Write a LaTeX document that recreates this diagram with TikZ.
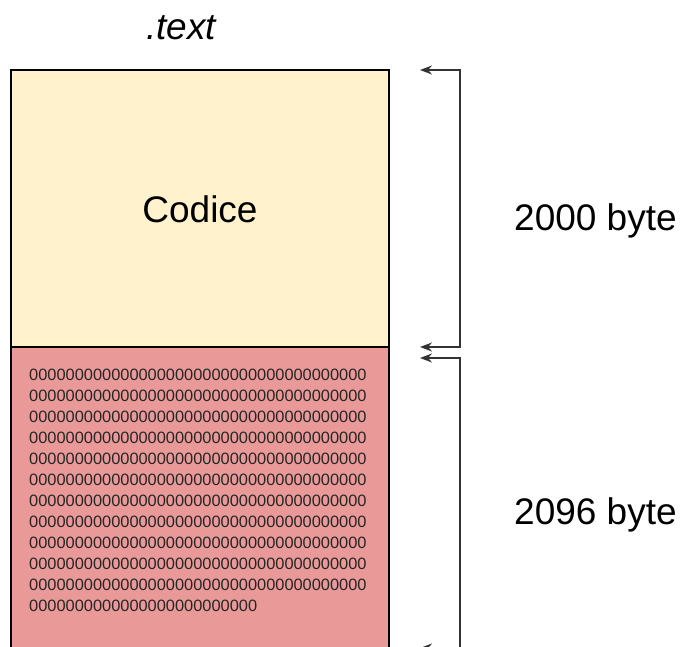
\documentclass[tikz,border=0pt]{standalone}
\usepackage{fontspec}
\setmainfont{Liberation Sans}
\usetikzlibrary{arrows.meta}
\definecolor{codeyellow}{HTML}{FFF2CC}
\definecolor{datared}{HTML}{EA9999}
\definecolor{linegray}{HTML}{333333}
\begin{document}
\begin{tikzpicture}[x=1pt,y=-1pt,
  boxstyle/.style={draw=black,line width=1.4pt,inner sep=0pt,minimum width=378pt},
  bigtext/.style={font=\fontsize{37}{40}\selectfont,inner sep=0pt},
  zerotext/.style={font=\fontsize{16.4}{21}\selectfont,inner sep=0pt,align=left,anchor=north west,text=black!85},
  bracket/.style={draw=linegray,line width=1.7pt,{Stealth[length=12pt,width=9pt]}-{Stealth[length=12pt,width=9pt]}}]
\useasboundingbox (0,0) rectangle (681,647);
\clip (0,0) rectangle (681,647);
\fill[white] (0,0) rectangle (681,647);
\node[boxstyle,fill=codeyellow,minimum height=277pt] (code) at (200,208.5) {};
\node[bigtext] (codelabel) at (200,209) {Codice};
\node[boxstyle,fill=datared,minimum height=320pt] (data) at (200,507) {};
\node[zerotext] (zeros) at (29,369) {%
0000000000000000000000000000000000000\\
0000000000000000000000000000000000000\\
0000000000000000000000000000000000000\\
0000000000000000000000000000000000000\\
0000000000000000000000000000000000000\\
0000000000000000000000000000000000000\\
0000000000000000000000000000000000000\\
0000000000000000000000000000000000000\\
0000000000000000000000000000000000000\\
0000000000000000000000000000000000000\\
0000000000000000000000000000000000000\\
0000000000000000000000000};
\node[bigtext,font=\fontsize{37}{40}\selectfont\itshape] (title) at (181,28) {.text};
\node[bigtext,anchor=west] (size1) at (514,221) {2000 byte};
\node[bigtext,anchor=west] (size2) at (514,515) {2096 byte};
\coordinate (a1) at (420,70);
\coordinate (c1) at (460,70);
\coordinate (c2) at (460,347);
\coordinate (a2) at (420,347);
\coordinate (a3) at (420,358);
\coordinate (c3) at (460,358);
\coordinate (c4) at (460,648);
\coordinate (a4) at (420,648);
\draw[bracket] (a1) -- (c1) -- (c2) -- (a2);
\draw[bracket] (a3) -- (c3) -- (c4) -- (a4);
\end{tikzpicture}
\end{document}
